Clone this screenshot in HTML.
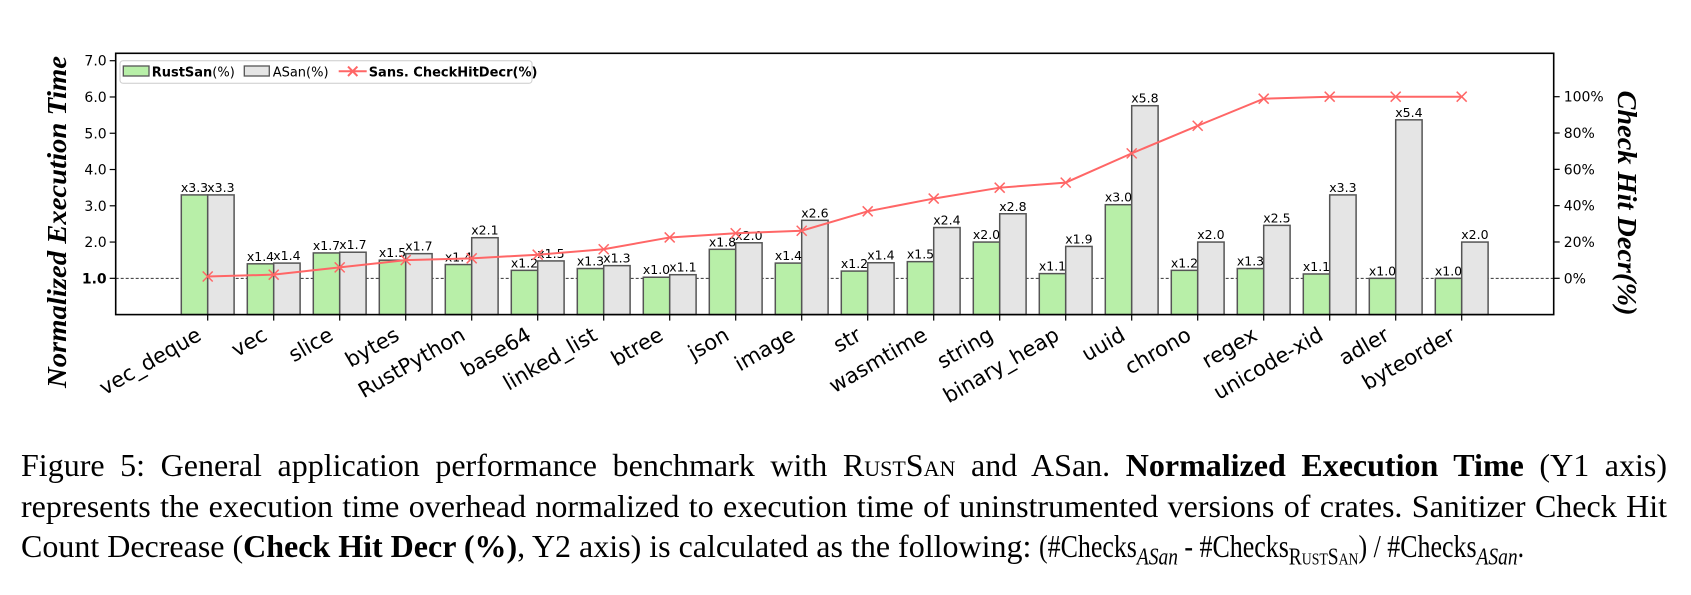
<!DOCTYPE html>
<html><head><meta charset="utf-8">
<style>
body{margin:0;background:#fff;width:1691px;height:595px;overflow:hidden;position:relative}
svg{position:absolute;left:0;top:0}
.cap{position:absolute;left:21px;width:1646px;font-family:"Liberation Serif",serif;font-size:32px;color:#000;white-space:nowrap}
.j{text-align:justify;text-align-last:justify}
.sc{font-variant:small-caps}
.fm{display:inline-block;transform:scaleX(0.81);transform-origin:0 50%}
</style></head><body>
<svg id="chart" width="1691" height="430" xmlns="http://www.w3.org/2000/svg"></svg>
<div class="cap j" style="top:447px">Figure 5: General application performance benchmark with <span class="sc">RustSan</span> and ASan. <b>Normalized Execution Time</b> (Y1 axis)</div>
<div class="cap j" style="top:488px">represents the execution time overhead normalized to execution time of uninstrumented versions of crates. Sanitizer Check Hit</div>
<div class="cap" style="top:528px">Count Decrease (<b>Check Hit Decr (%)</b>, Y2 axis) is calculated as the following: <span class="fm">(#Checks<sub style="font-style:italic;font-size:24px">ASan</sub> - #Checks<sub class="sc" style="font-size:24px">RustSan</sub>) / #Checks<sub style="font-style:italic;font-size:24px">ASan</sub>.</span></div>
<script>
const categories=["vec_deque","vec","slice","bytes","RustPython","base64","linked_list","btree","json","image","str","wasmtime","string","binary_heap","uuid","chrono","regex","unicode-xid","adler","byteorder"];
const rustsan=[3.3,1.4,1.7,1.5,1.38,1.22,1.27,1.03,1.8,1.42,1.2,1.46,2.0,1.13,3.03,1.22,1.27,1.12,1.0,1.0];
const asan=[3.3,1.42,1.72,1.68,2.12,1.48,1.35,1.1,1.98,2.6,1.43,2.4,2.78,1.88,5.76,2.0,2.46,3.3,5.37,2.0];
const rustsanLabels=["x3.3","x1.4","x1.7","x1.5","x1.4","x1.2","x1.3","x1.0","x1.8","x1.4","x1.2","x1.5","x2.0","x1.1","x3.0","x1.2","x1.3","x1.1","x1.0","x1.0"];
const asanLabels=["x3.3","x1.4","x1.7","x1.7","x2.1","x1.5","x1.3","x1.1","x2.0","x2.6","x1.4","x2.4","x2.8","x1.9","x5.8","x2.0","x2.5","x3.3","x5.4","x2.0"];
const checkHit=[1,2,6,10,11,13,16,22.5,24.8,26.2,36.9,43.9,49.9,52.7,68.8,84,98.9,100,100,100];
const yTicks=[1,2,3,4,5,6,7];
const y2Ticks=[0,20,40,60,80,100];

const svg=document.getElementById('chart');
const NS='http://www.w3.org/2000/svg';
const L=115.7,R=1553.7,T=53.3,B=314.6;
const xs=i=>207.7+i*66.0;
const ys=v=>B-v*36.27;
const y2=p=>278.3-p*1.816;
const BW=26.4;
function el(tag,a,txt){const e=document.createElementNS(NS,tag);for(const k in a)e.setAttribute(k,a[k]);if(txt!==undefined)e.textContent=txt;svg.appendChild(e);return e;}

let g=el('line',{x1:L,x2:R,y1:ys(1),y2:ys(1),stroke:'#333','stroke-width':1,'stroke-dasharray':'3,2'});



categories.forEach((c,i)=>{
  const x=xs(i);
  let b=el('rect',{x:x-BW,y:ys(rustsan[i]),width:BW,height:B-ys(rustsan[i]),fill:'#b8efa8',stroke:'#555','stroke-width':1.5});
  
  
  let a=el('rect',{x:x,y:ys(asan[i]),width:BW,height:B-ys(asan[i]),fill:'#e5e5e5',stroke:'#555','stroke-width':1.5});
  
  
  let t1=el('text',{x:x-BW/2,y:ys(rustsan[i])-3,'text-anchor':'middle','font-family':'DejaVu Sans, sans-serif','font-size':12.5},rustsanLabels[i]);
  
  
  let t2=el('text',{x:x+BW/2,y:ys(asan[i])-3,'text-anchor':'middle','font-family':'DejaVu Sans, sans-serif','font-size':12.5},asanLabels[i]);
  
  
  let tk=el('line',{x1:x,x2:x,y1:B,y2:B+6,stroke:'#000','stroke-width':1.2});
  
  
  let xl=el('text',{x:x-5,y:339,'text-anchor':'end','font-family':'DejaVu Sans, sans-serif','font-size':21,transform:`rotate(-30 ${x-5} 339)`},c);
  
  
});

let pts=checkHit.map((p,i)=>xs(i)+','+y2(p)).join(' ');
let pl=el('polyline',{points:pts,fill:'none',stroke:'#ff6666','stroke-width':2});


checkHit.forEach((p,i)=>{
  const x=xs(i),y=y2(p);
  let m=el('path',{d:`M${x-5},${y-5}L${x+5},${y+5}M${x-5},${y+5}L${x+5},${y-5}`,stroke:'#ff6666','stroke-width':1.5});
  
  
});

let fr=el('rect',{x:L,y:T,width:R-L,height:B-T,fill:'none',stroke:'#000','stroke-width':1.6});



yTicks.forEach(v=>{
  let t=el('line',{x1:L-6,x2:L,y1:ys(v),y2:ys(v),stroke:'#000','stroke-width':1.2});
  
  
  let l=el('text',{x:L-9,y:ys(v)+5,'text-anchor':'end','font-family':'DejaVu Sans, sans-serif','font-size':14,'font-weight':v===1?'bold':'normal'},v.toFixed(1));
  
  
});
y2Ticks.forEach(p=>{
  let t=el('line',{x1:R,x2:R+6,y1:y2(p),y2:y2(p),stroke:'#000','stroke-width':1.2});
  
  
  let l=el('text',{x:R+10,y:y2(p)+5,'font-family':'DejaVu Sans, sans-serif','font-size':14},p+'%');
  
  
});

let yt=el('text',{x:0,y:0,'text-anchor':'middle','font-family':'Liberation Serif, serif','font-size':27,'font-weight':'bold','font-style':'italic',transform:'translate(66 222) rotate(-90)',textLength:332,lengthAdjust:'spacingAndGlyphs'},'Normalized Execution Time');


let y2t=el('text',{x:0,y:0,'text-anchor':'middle','font-family':'Liberation Serif, serif','font-size':27,'font-weight':'bold','font-style':'italic',transform:'translate(1618 203) rotate(90)',textLength:225,lengthAdjust:'spacingAndGlyphs'},'Check Hit Decr(%)');



let lg=el('rect',{x:120,y:60.7,width:412,height:22.6,rx:3,fill:'#fff',stroke:'#ccc','stroke-width':1});


let p1=el('rect',{x:123.3,y:66,width:25.7,height:10,fill:'#b8efa8',stroke:'#555','stroke-width':1.3});


let l1=el('text',{x:151.7,y:76.5,'font-family':'DejaVu Sans, sans-serif','font-size':13},'');


l1.innerHTML='<tspan font-weight="bold">RustSan</tspan>(%)';
let p2=el('rect',{x:244.3,y:66,width:25,height:10,fill:'#e5e5e5',stroke:'#555','stroke-width':1.3});


let l2=el('text',{x:272.7,y:76.5,'font-family':'DejaVu Sans, sans-serif','font-size':13},'ASan(%)');


let p3=el('path',{d:'M338.7,71.3H366.7M348,66.6L357.4,76M348,76L357.4,66.6',stroke:'#ff6666','stroke-width':2});


let l3=el('text',{x:368.7,y:76.5,'font-family':'DejaVu Sans, sans-serif','font-size':13,'font-weight':'bold'},'Sans. CheckHitDecr(%)');


</script>
</body></html>
